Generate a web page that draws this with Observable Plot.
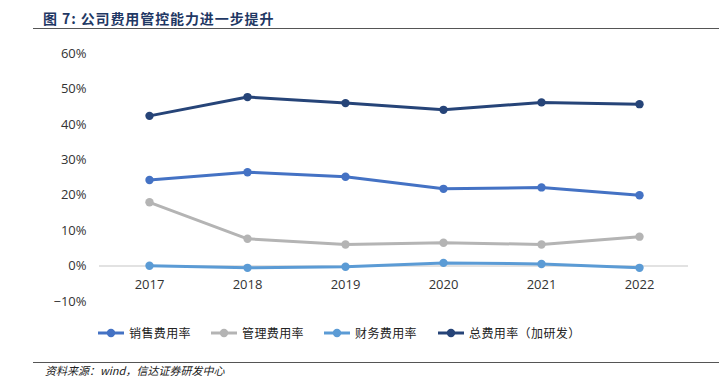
<!DOCTYPE html>
<html>
<head>
<meta charset="utf-8">
<script src="https://cdn.jsdelivr.net/npm/d3@7"></script>
<script src="https://cdn.jsdelivr.net/npm/@observablehq/plot@0.6"></script>
<style>
  html, body { margin: 0; padding: 0; background: #fff; }
  #wrap { position: relative; width: 719px; height: 380px; overflow: hidden; font-family: "Noto Sans CJK SC", "Noto Sans", sans-serif; }
  #title { position: absolute; left: 43px; top: 8px; font-size: 14px; font-weight: bold; color: #1f3864; letter-spacing: 0.9px; white-space: nowrap; }
  .hr { position: absolute; left: 33px; right: 0; height: 1px; background: #555; }
  #chart { position: absolute; left: 0; top: 30px; }
  #legend { position: absolute; top: 324px; left: 0; width: 719px; height: 20px; }
  .item { position: absolute; top: 0; display: flex; align-items: center; font-size: 12px; color: #222; letter-spacing: 0.4px; white-space: nowrap; }
  .item svg { margin-right: 4px; }
  #source { position: absolute; left: 45px; top: 364px; font-size: 11px; line-height: 13px; font-style: italic; color: #222; white-space: nowrap; }
</style>
</head>
<body>
<div id="wrap">
  <div id="title"></div>
  <div class="hr" style="top:28px"></div>
  <div id="chart"></div>
  <div id="legend"></div>
  <div class="hr" style="top:362px"></div>
  <div id="source"></div>
</div>
<script>
const titleText = "图 7:  公司费用管控能力进一步提升";
const sourceText = "资料来源：wind，信达证券研发中心";
const years = ["2017", "2018", "2019", "2020", "2021", "2022"];
const seriesNames = ["销售费用率", "管理费用率", "财务费用率", "总费用率（加研发）"];
const seriesColors = ["#4472C4", "#B4B4B4", "#5B9BD5", "#264478"];
const sales = [0.243, 0.265, 0.252, 0.218, 0.222, 0.200];
const admin = [0.180, 0.077, 0.061, 0.066, 0.061, 0.083];
const finance = [0.001, -0.005, -0.002, 0.009, 0.006, -0.005];
const total = [0.424, 0.477, 0.460, 0.441, 0.462, 0.457];
const yTicks = [-0.1, 0, 0.1, 0.2, 0.3, 0.4, 0.5, 0.6];

document.getElementById("title").textContent = titleText;
document.getElementById("source").textContent = sourceText;

const allSeries = [sales, admin, finance, total];
const data = [];
allSeries.forEach((vals, si) => {
  vals.forEach((v, i) => data.push({year: years[i], value: v, series: seriesNames[si]}));
});

const chart = Plot.plot({
  width: 719,
  height: 280,
  marginLeft: 99,
  marginRight: 31,
  marginTop: 23,
  marginBottom: 9,
  style: {fontFamily: "'Open Sans', 'Noto Sans', sans-serif", fontSize: "13px", color: "#333", background: "transparent"},
  x: {type: "point", domain: years, padding: 0.5},
  y: {domain: [-0.1, 0.6], ticks: yTicks},
  color: {domain: seriesNames, range: seriesColors},
  marks: [
    Plot.ruleY([0], {stroke: "#d9d9d9", strokeWidth: 1.5}),
    Plot.axisY({ticks: yTicks, tickFormat: d3.format(".0%"), tickSize: 0, tickPadding: 13, label: null, fontSize: 13}),
    Plot.axisX({tickSize: 0, tickPadding: 0, label: null, dy: -22, fontSize: 13}),
    Plot.line(data, {x: "year", y: "value", z: "series", stroke: "series", strokeWidth: 3}),
    Plot.dot(data, {x: "year", y: "value", fill: "series", r: 4.2})
  ]
});
document.getElementById("chart").appendChild(chart);

const legendX = [97, 210, 323, 437];
const legend = document.getElementById("legend");
seriesNames.forEach((name, i) => {
  const d = document.createElement("div");
  d.className = "item";
  d.style.left = legendX[i] + "px";
  d.innerHTML = `<svg width="28" height="12"><line x1="1" y1="6" x2="27" y2="6" stroke="${seriesColors[i]}" stroke-width="3"/><circle cx="14" cy="6" r="4.2" fill="${seriesColors[i]}"/></svg><span></span>`;
  d.querySelector("span").textContent = name;
  legend.appendChild(d);
});
</script>
</body>
</html>
